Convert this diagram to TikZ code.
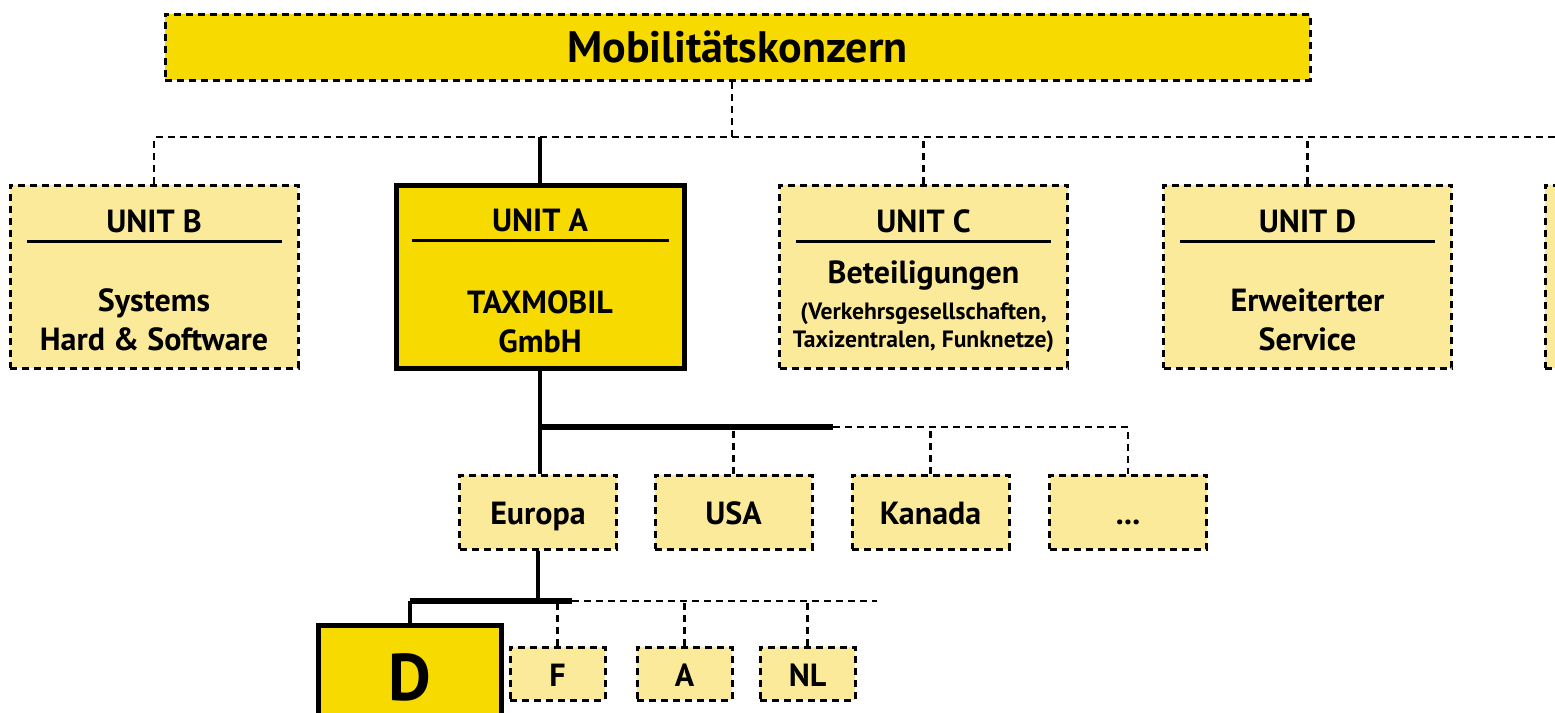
\documentclass[tikz,border=0pt]{standalone}
\usepackage{fontspec}
\setmainfont{PT Sans}
\definecolor{paleyellow}{RGB}{252,234,155}
\definecolor{taxyellow}{RGB}{247,218,0}

\begin{document}
\begin{tikzpicture}[x=0.5pt, y=-0.5pt,
  dashbox/.style={draw, fill=paleyellow, line width=1.5pt, dash pattern=on 3.5pt off 2.5pt, inner sep=0pt},
  mainbox/.style={draw, fill=taxyellow, line width=2.5pt, inner sep=0pt},
  dashline/.style={line width=1.3pt, dash pattern=on 3.5pt off 2.5pt},
  solidline/.style={line width=2pt},
  busline/.style={line width=2.8pt},
  rule/.style={line width=1.5pt},
  unitsize/.style={minimum width=144pt, minimum height=91.5pt},
  countrysize/.style={minimum width=78.5pt, minimum height=37pt, text height=12.5pt, text depth=0pt},
  smallsize/.style={minimum width=47.5pt, minimum height=26.5pt, text height=12.5pt, text depth=0pt},
  txt/.style={font=\fontsize{16}{19.5}\selectfont\bfseries, align=center}
]
% Set the picture size
\clip (0,0) rectangle (1555,713);

% Konzern on top
\node[dashbox, fill=taxyellow, minimum width=572.5pt, minimum height=33pt,
  font=\fontsize{22}{24}\selectfont\bfseries] (konzern) at (737.5,47) {Mobilitätskonzern};
\coordinate (bus) at (732,137);
\coordinate (busR) at (1560,137);

% Draw the units and their titles
\node[dashbox, unitsize] (unitB) at (154,276.5) {};
\node[mainbox, unitsize] (unitA) at (540,276.5) {};
\node[dashbox, unitsize] (unitC) at (923.5,276.5) {};
\node[dashbox, unitsize] (unitD) at (1307.5,276.5) {};
\node[dashbox, unitsize] (unitE) at (1689,276.5) {};
\foreach \u/\t in {unitB/UNIT B, unitA/UNIT A, unitC/UNIT C, unitD/UNIT D} {
  \node[txt] (\u-title) at ([yshift=-19pt]\u.north) {\t};
  \draw[rule] ([xshift=9pt, yshift=-29pt]\u.north west) -- ([xshift=-9pt, yshift=-29pt]\u.north east);
}
\node[txt] (bodyB) at (154,320) {Systems\\Hard \& Software};
\node[txt] (bodyA) at (540,322) {TAXMOBIL\\GmbH};
\node[txt] (bodyC) at (923.5,276) {Beteiligungen};
\node[txt, font=\fontsize{11.8}{14}\selectfont\bfseries] (bodyCsub) at (923.5,328)
  {(Verkehrsgesellschaften,\\Taxizentralen, Funknetze)};
\node[txt] (bodyD) at (1307.5,320) {Erweiterter\\Service};

% Connectors of the units
\draw[dashline] (konzern.south -| bus) -- (bus);
\draw[dashline] (unitB.north) |- (busR);
\draw[dashline] (unitC.north) -- (unitC.north |- bus);
\draw[dashline] (unitD.north) -- (unitD.north |- bus);
\draw[solidline] (unitA.north) -- (unitA.north |- bus);

% Regions below TAXMOBIL
\node[dashbox, countrysize, txt] (europa) at (538,512) {Europa};
\node[dashbox, countrysize, txt] (usa) at (733.5,512) {USA};
\node[dashbox, countrysize, txt] (kanada) at (930.5,512) {Kanada};
\node[dashbox, countrysize, txt] (more) at (1128,512) {...};
\coordinate (bus2) at (540,427);
\coordinate (bus2end) at (833,427);
\draw[solidline] (unitA.south) -- (unitA.south |- europa.north);
\draw[busline] (unitA.south |- bus2) -- (bus2end);
\draw[dashline] (bus2end) -| (more.north);
\draw[dashline] (usa.north) -- (usa.north |- bus2);
\draw[dashline] (kanada.north) -- (kanada.north |- bus2);

% Countries below Europa
\node[mainbox, minimum width=91.5pt, minimum height=52pt, text height=23pt, text depth=0pt,
  font=\fontsize{33}{33}\selectfont\bfseries] (de) at (410,677) {D};
\node[dashbox, smallsize, txt] (fr) at (557.5,673.5) {F};
\node[dashbox, smallsize, txt] (at) at (684.5,673.5) {A};
\node[dashbox, smallsize, txt] (nl) at (807.5,673.5) {NL};
\coordinate (bus3) at (538,601);
\coordinate (bus3end) at (572,601);
\coordinate (bus3R) at (877,601);
\draw[solidline] (europa.south) -- (bus3);
\draw[busline] (bus3end) -- (de.north |- bus3);
\draw[solidline] (de.north |- bus3) -- (de.north);
\draw[dashline] (bus3end) -- (bus3R);
\draw[dashline] (fr.north) -- (fr.north |- bus3);
\draw[dashline] (at.north) -- (at.north |- bus3);
\draw[dashline] (nl.north) -- (nl.north |- bus3);
\end{tikzpicture}
\end{document}
